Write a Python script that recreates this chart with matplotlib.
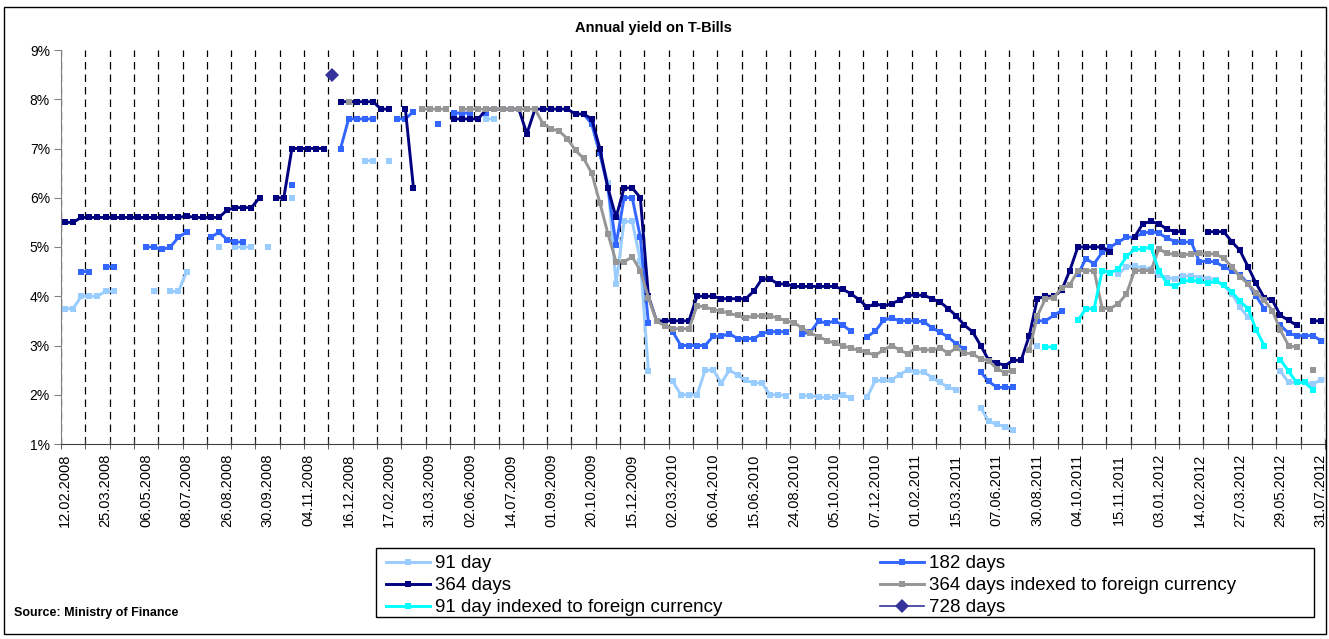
import numpy as np
import matplotlib
matplotlib.use("Agg")
import matplotlib.pyplot as plt
from matplotlib.patches import Rectangle

plt.rcParams["font.family"] = "Liberation Sans"

n = np.nan

# every fifth auction date is labelled on the axis
date_labels = [
    "12.02.2008", "25.03.2008", "06.05.2008", "08.07.2008", "26.08.2008",
    "30.09.2008", "04.11.2008", "16.12.2008", "17.02.2009", "31.03.2009",
    "02.06.2009", "14.07.2009", "01.09.2009", "20.10.2009", "15.12.2009",
    "02.03.2010", "06.04.2010", "15.06.2010", "24.08.2010", "05.10.2010",
    "07.12.2010", "01.02.2011", "15.03.2011", "07.06.2011", "30.08.2011",
    "04.10.2011", "15.11.2011", "03.01.2012", "14.02.2012", "27.03.2012",
    "29.05.2012", "31.07.2012",
]

# yields in %, one value per auction (nan = no auction for that paper)
yield_91 = [
    3.75, 3.75, 4.0, 4.0, 4.0, 4.1, 4.1, n, n, n,
    n, 4.1, n, 4.1, 4.1, 4.5, n, n, n, 5.0,
    n, 5.0, 5.0, 5.0, n, 5.0, n, n, 6.0, n,
    n, n, n, n, n, n, n, 6.75, 6.75, n,
    6.75, n, n, n, n, n, n, n, n, n,
    n, n, 7.6, 7.6, n, n, n, n, n, n,
    n, n, n, n, n, 7.5, 6.9, 6.3, 4.25, 5.52,
    5.52, 4.72, 2.48, n, n, 2.27, 2.0, 2.0, 2.0, 2.5,
    2.5, 2.24, 2.5, 2.4, 2.29, 2.24, 2.24, 2.0, 2.0, 1.98,
    n, 1.98, 1.98, 1.95, 1.95, 1.95, 2.0, 1.93, n, 1.95,
    2.29, 2.29, 2.3, 2.41, 2.5, 2.46, 2.46, 2.35, 2.25, 2.15,
    2.1, n, n, 1.74, 1.46, 1.4, 1.35, 1.28, n, n,
    3.0, n, n, n, n, n, n, n, n, n,
    4.45, 4.6, 4.61, 4.58, 4.55, 4.43, 4.37, 4.36, 4.41, 4.41,
    4.38, 4.36, 4.34, 4.22, 4.05, 3.78, 3.57, n, n, n,
    2.48, 2.25, 2.25, 2.25, 2.22, 2.3,
]

yield_182 = [
    n, n, 4.5, 4.5, n, 4.6, 4.6, n, n, n,
    5.0, 5.0, 4.95, 5.0, 5.2, 5.3, n, n, 5.2, 5.3,
    5.15, 5.1, 5.1, n, n, n, n, n, 6.25, n,
    n, n, n, n, 7.0, 7.6, 7.6, 7.6, 7.6, n,
    n, 7.6, 7.6, 7.75, n, n, 7.5, n, 7.72, 7.72,
    7.72, n, 7.72, n, n, n, n, n, n, n,
    n, n, n, n, 7.7, 7.5, 6.9, 6.2, 5.05, 6.0,
    6.0, 5.2, 3.45, n, n, 3.28, 3.0, 3.0, 3.0, 3.0,
    3.19, 3.19, 3.24, 3.14, 3.14, 3.14, 3.24, 3.28, 3.28, 3.28,
    n, 3.24, 3.27, 3.5, 3.45, 3.5, 3.41, 3.29, n, 3.18,
    3.29, 3.51, 3.56, 3.5, 3.5, 3.5, 3.48, 3.36, 3.27, 3.17,
    3.03, 2.93, n, 2.46, 2.27, 2.15, 2.15, 2.15, n, n,
    3.5, 3.5, 3.61, 3.71, n, 4.45, 4.76, 4.66, 4.89, 5.0,
    5.1, 5.2, 5.2, 5.28, 5.31, 5.28, 5.18, 5.11, 5.1, 5.1,
    4.7, 4.72, 4.69, 4.6, 4.52, 4.44, 4.26, 4.0, 3.75, n,
    3.41, 3.25, 3.2, 3.2, 3.2, 3.1,
]

yield_364 = [
    5.5, 5.5, 5.6, 5.6, 5.6, 5.6, 5.6, 5.6, 5.6, 5.6,
    5.6, 5.6, 5.6, 5.6, 5.6, 5.63, 5.6, 5.6, 5.6, 5.6,
    5.75, 5.8, 5.8, 5.8, 6.0, n, 6.0, 6.0, 7.0, 7.0,
    7.0, 7.0, 7.0, n, 7.95, 7.95, 7.95, 7.95, 7.95, 7.8,
    7.8, n, 7.8, 6.2, n, n, n, n, 7.6, 7.6,
    7.6, 7.6, 7.8, 7.8, 7.8, 7.8, 7.8, 7.3, 7.8, 7.8,
    7.8, 7.8, 7.8, 7.7, 7.7, 7.6, 7.0, 6.2, 5.6, 6.2,
    6.2, 6.0, 4.0, 3.5, 3.5, 3.5, 3.5, 3.5, 4.0, 4.0,
    4.0, 3.95, 3.95, 3.95, 3.95, 4.1, 4.35, 4.35, 4.25, 4.25,
    4.2, 4.2, 4.2, 4.2, 4.2, 4.2, 4.14, 4.05, 3.93, 3.78,
    3.85, 3.8, 3.85, 3.92, 4.02, 4.02, 4.02, 3.95, 3.88, 3.75,
    3.6, 3.41, 3.28, 3.0, 2.7, 2.65, 2.59, 2.7, 2.7, 3.2,
    3.95, 4.0, 4.0, 4.12, 4.52, 5.0, 5.0, 5.0, 5.0, 4.9,
    n, n, 5.2, 5.47, 5.52, 5.47, 5.36, 5.31, 5.31, n,
    n, 5.31, 5.31, 5.31, 5.11, 4.93, 4.6, 4.26, 3.97, 3.92,
    3.61, 3.51, 3.41, n, 3.5, 3.5,
]

yield_364_fx = [
    n, n, n, n, n, n, n, n, n, n,
    n, n, n, n, n, n, n, n, n, n,
    n, n, n, n, n, n, n, n, n, n,
    n, n, n, n, n, 7.95, n, n, n, n,
    n, n, n, n, 7.8, 7.8, 7.8, 7.8, n, 7.8,
    7.8, 7.8, 7.8, 7.8, 7.8, 7.8, 7.8, 7.8, 7.8, 7.5,
    7.4, 7.35, 7.2, 6.96, 6.8, 6.5, 5.9, 5.27, 4.7, 4.7,
    4.8, 4.52, 3.97, 3.5, 3.4, 3.34, 3.34, 3.34, 3.81, 3.78,
    3.73, 3.7, 3.65, 3.61, 3.56, 3.6, 3.6, 3.6, 3.56, 3.5,
    3.46, 3.35, 3.25, 3.18, 3.1, 3.05, 2.99, 2.95, 2.9, 2.86,
    2.8, 2.91, 3.0, 2.91, 2.83, 2.95, 2.91, 2.91, 2.95, 2.84,
    2.95, 2.85, 2.83, 2.73, 2.69, 2.53, 2.45, 2.49, n, 2.9,
    3.6, 3.95, 3.97, 4.17, 4.23, 4.52, 4.52, 4.52, 3.75, 3.75,
    3.85, 4.05, 4.52, 4.52, 4.52, 4.96, 4.87, 4.85, 4.84, 4.86,
    4.87, 4.86, 4.86, 4.77, 4.6, 4.4, 4.25, 4.07, 3.92, 3.71,
    3.31, 3.0, 2.96, n, 2.5, n,
]

yield_91_fx = [n] * 120 + [
    n, 2.97, 2.97, n, n, 3.51, 3.75, 3.75, 4.52, 4.48,
    4.55, 4.81, 4.95, 4.96, 5.0, 4.52, 4.26, 4.2, 4.31, 4.32,
    4.31, 4.26, 4.31, 4.22, 4.09, 3.9, 3.75, 3.32, 3.0, n,
    2.71, 2.48, 2.25, 2.25, 2.1, n,
]

yield_728 = [n] * 33 + [8.5] + [n] * 122

series = [
    ("91 day", yield_91, "#99CCFF"),
    ("182 days", yield_182, "#3366FF"),
    ("364 days", yield_364, "#000080"),
    ("364 days indexed to foreign currency", yield_364_fx, "#969696"),
    ("91 day indexed to foreign currency", yield_91_fx, "#00FFFF"),
]

W, H = 1329, 639
fig = plt.figure(figsize=(W / 100, H / 100), dpi=100)


def fx(px):
    return px / W


def fy(py):
    return 1 - py / H


ax = fig.add_axes([fx(61), fy(444), fx(1325 - 61), (444 - 50) / H])

x = np.arange(len(yield_364))
handles = {}
for name, vals, col in series:
    ln, = ax.plot(x, vals, color=col, lw=2.1, marker="s", ms=4.8, mew=0,
                  solid_joinstyle="round")
    handles[name] = ln
dm, = ax.plot(x, yield_728, color="#333399", lw=1.2, marker="D", ms=7, mew=0)
handles["728 days"] = dm

ax.set_xlim(-0.5, len(x) - 0.5)
ax.set_ylim(1, 9)
ax.set_yticks(range(1, 10))
ax.set_yticklabels([f"{v}%" for v in range(1, 10)], fontsize=10)
ax.set_xticks(np.arange(0, len(x), 5))
ax.set_xticklabels(date_labels, rotation=90, fontsize=10.5)
ax.set_xticks(np.arange(-0.5, len(x), 3), minor=True)
ax.tick_params(axis="x", which="major", length=0, pad=7)
ax.tick_params(axis="x", which="minor", direction="inout", length=7,
               color="#404040")
ax.tick_params(axis="y", direction="out", length=5, color="#808080", pad=3)
ax.grid(True, which="minor", axis="x", color="black", lw=0.9,
        ls=(0, (6, 4)))

for s in ("top", "right"):
    ax.spines[s].set_visible(False)
ax.spines["left"].set_color("#808080")
ax.spines["bottom"].set_color("#404040")

fig.text(fx(653), fy(28), "Annual yield on T-Bills", ha="center",
         va="center", fontsize=10.5, fontweight="bold")
fig.text(fx(14), fy(613), "Source: Ministry of Finance", ha="left",
         va="center", fontsize=9, fontweight="bold")

# legend box and its two columns
fig.add_artist(Rectangle((fx(376), fy(617)), fx(1314 - 376), (617 - 548) / H,
                         transform=fig.transFigure, fill=False, ec="black",
                         lw=1.0))
leg_kw = dict(loc="upper left", frameon=False, fontsize=13.5, borderpad=0,
              borderaxespad=0, handlelength=2.35, handletextpad=0.28,
              labelspacing=0.26, numpoints=1)
col1 = ["91 day", "364 days", "91 day indexed to foreign currency"]
col2 = ["182 days", "364 days indexed to foreign currency", "728 days"]
fig.legend([handles[k] for k in col1], col1,
           bbox_to_anchor=(fx(386), fy(555)), **leg_kw)
fig.legend([handles[k] for k in col2], col2,
           bbox_to_anchor=(fx(880), fy(555)), **leg_kw)

# outer frame
fig.add_artist(Rectangle((fx(4), fy(634)), fx(1322), (634 - 7) / H,
                         transform=fig.transFigure, fill=False, ec="black",
                         lw=1.0))

fig.savefig("out.png", dpi=100)
